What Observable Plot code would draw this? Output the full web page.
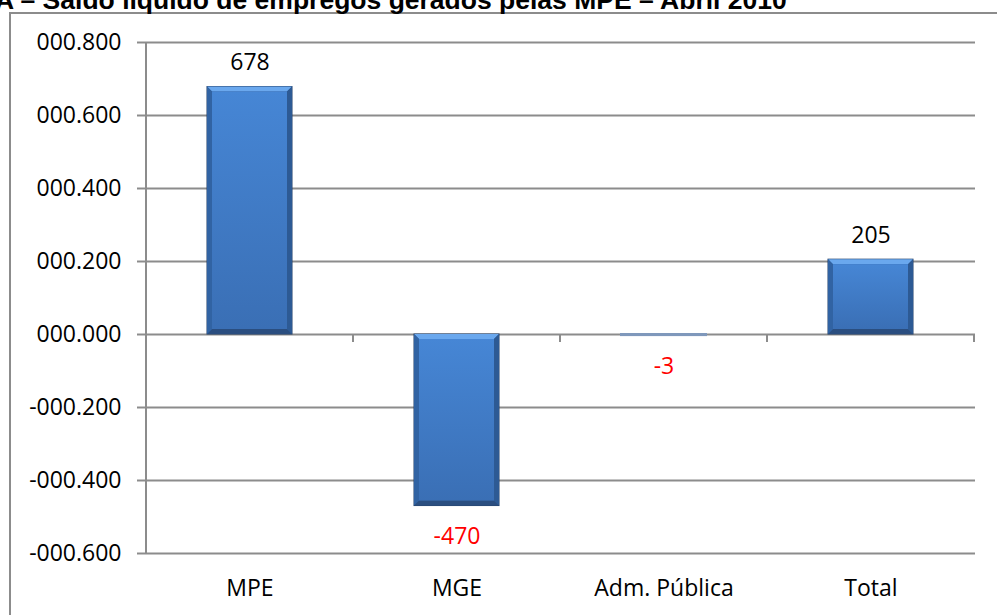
<!DOCTYPE html>
<html>
<head>
<meta charset="utf-8">
<script src="https://cdn.jsdelivr.net/npm/d3@7"></script>
<script src="https://cdn.jsdelivr.net/npm/@observablehq/plot@0.6"></script>
<style>
  html, body { margin: 0; padding: 0; background: #fff; }
  #wrap { position: relative; width: 997px; height: 615px; overflow: hidden; background: #fff; }
  #title { position: absolute; left: -5px; top: -13px; font-family: "Liberation Sans", Arial, sans-serif; font-weight: bold; font-size: 26.5px; line-height: 26px; white-space: nowrap; color: #000; }
  #frame { position: absolute; left: 9px; top: 12px; width: 1100px; height: 700px; border: 2px solid #8c8c8c; box-sizing: border-box; }
  #chart { position: absolute; left: 0; top: 0; }
</style>
</head>
<body>
<div id="wrap">
  <div id="frame"></div>
  <div id="title">A – Saldo líquido de empregos gerados pelas MPE – Abril 2010</div>
  <div id="chart"></div>
</div>
<script>
const categories = ["MPE", "MGE", "Adm. Pública", "Total"];
const values = [678, -470, -3, 205];
const valueLabels = ["678", "-470", "-3", "205"];
const yTicks = [-0.6, -0.4, -0.2, 0, 0.2, 0.4, 0.6, 0.8];
const yTickLabels = ["-000.600", "-000.400", "-000.200", "000.000", "000.200", "000.400", "000.600", "000.800"];

const data = categories.map((c, i) => ({cat: c, value: values[i] / 1000, label: valueLabels[i]}));
const fmt = d => { const i = yTicks.findIndex(t => Math.abs(t - d) < 1e-9); return i >= 0 ? yTickLabels[i] : ""; };

const plot = Plot.plot({
  width: 997, height: 615,
  marginLeft: 145, marginRight: 22, marginTop: 42, marginBottom: 62,
  style: {fontFamily: "'Open Sans', sans-serif", fontSize: "23px", background: "transparent", overflow: "visible"},
  x: {domain: categories, paddingInner: 0.59, paddingOuter: 0.295, label: null},
  y: {domain: [-0.6, 0.8], label: null},
  marks: [
    Plot.ruleY(yTicks, {stroke: "#8c8c8c", strokeWidth: 2}),
    Plot.barY(data, {x: "cat", y: "value", fill: "#2c5b97"}),
    Plot.text(data.filter(d => d.value >= 0), {x: "cat", y: "value", text: "label", dy: -24, fill: "black", fontSize: 23}),
    Plot.text(data.filter(d => d.value < 0), {x: "cat", y: "value", text: "label", dy: 31, fill: "red", fontSize: 23}),
    Plot.axisY({ticks: yTicks, tickFormat: fmt, tickSize: 8, tickPadding: 16, stroke: "#8c8c8c", strokeWidth: 2, fill: "black", fontSize: 23}),
    Plot.axisX({tickSize: 0, tickPadding: 26, fill: "black", fontSize: 23})
  ]
});
document.getElementById("chart").appendChild(plot);

const svg = d3.select(plot);
const xs = plot.scale("x"), ys = plot.scale("y");
const bw = xs.bandwidth;
const step = xs.apply(categories[1]) - xs.apply(categories[0]);
const y0 = ys.apply(0);

const defs = svg.insert("defs", ":first-child");
const g1 = defs.append("linearGradient").attr("id", "innerGrad").attr("x1", 0).attr("y1", 0).attr("x2", 0).attr("y2", 1);
g1.append("stop").attr("offset", 0).attr("stop-color", "#4686d5");
g1.append("stop").attr("offset", 1).attr("stop-color", "#3a6fb5");

svg.selectAll('g[aria-label="bar"] rect').each(function() {
  const r = d3.select(this);
  const x = +r.attr("x"), y = +r.attr("y"), w = +r.attr("width"), h = +r.attr("height");
  const p = d3.select(this.parentNode);
  if (h < 14) {
    r.attr("fill", "#7f98bb").attr("stroke", "#7f98bb").attr("stroke-width", 2);
    return;
  }
  r.attr("stroke", "#213f69").attr("stroke-width", 1);
  const b = 5;
  p.append("polygon").attr("points", `${x},${y} ${x+w},${y} ${x+w-b},${y+b} ${x+b},${y+b}`).attr("fill", "#6aa8ee");
  p.append("polygon").attr("points", `${x},${y+h} ${x+w},${y+h} ${x+w-b},${y+h-b} ${x+b},${y+h-b}`).attr("fill", "#2a4e80");
  p.append("polygon").attr("points", `${x},${y} ${x+b},${y+b} ${x+b},${y+h-b} ${x},${y+h}`).attr("fill", "#3163a3");
  p.append("polygon").attr("points", `${x+w},${y} ${x+w-b},${y+b} ${x+w-b},${y+h-b} ${x+w},${y+h}`).attr("fill", "#2d5a94");
  p.append("rect").attr("x", x+b).attr("y", y+b).attr("width", w-2*b).attr("height", h-2*b).attr("fill", "url(#innerGrad)");
});

const extra = svg.append("g").attr("stroke", "#8c8c8c").attr("stroke-width", 2);
const xLeft = xs.apply(categories[0]) - (step - bw) / 2;
extra.append("line").attr("x1", xLeft).attr("x2", xLeft).attr("y1", ys.apply(0.8)).attr("y2", ys.apply(-0.6));
for (let i = 0; i <= categories.length; i++) {
  const bx = xLeft + i * step;
  extra.append("line").attr("x1", bx).attr("x2", bx).attr("y1", y0).attr("y2", y0 + 8);
}
</script>
</body>
</html>
